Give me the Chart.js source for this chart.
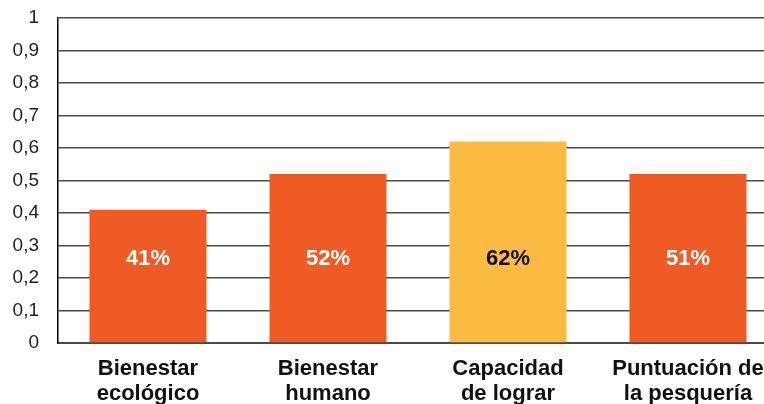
<!DOCTYPE html>
<html>
<head>
<meta charset="utf-8">
<script src="https://cdn.jsdelivr.net/npm/chart.js@4/dist/chart.umd.min.js"></script>
<style>
  html, body { margin:0; padding:0; background:#fff; overflow:hidden; }
  #caja { width:778px; height:404px; }
</style>
</head>
<body>
<div id="caja"><canvas id="myChart"></canvas></div>
<script>
// datos
const categorias = [["Bienestar","ecológico"],["Bienestar","humano"],["Capacidad","de lograr"],["Puntuación de","la pesquería"]];
const valores = [0.41, 0.52, 0.62, 0.52];
const etiquetas = ["41%", "52%", "62%", "51%"];
const ticksY = [0, 0.1, 0.2, 0.3, 0.4, 0.5, 0.6, 0.7, 0.8, 0.9, 1];

const naranja = '#F05A24';
const amarillo = '#FBBB42';

// texto dentro de cada barra, a la misma altura en todas
const textoBarras = {
    id: 'textoBarras',
    afterDatasetsDraw(chart) {
        const ctx = chart.ctx;
        const meta = chart.getDatasetMeta(0);
        const y = chart.scales.y.getPixelForValue(0.26);
        ctx.save();
        ctx.font = 'bold 22px "Liberation Sans", Arial, sans-serif';
        ctx.textAlign = 'center';
        ctx.textBaseline = 'middle';
        meta.data.forEach((barra, i) => {
            ctx.fillStyle = i == 2 ? '#111' : '#fff';
            ctx.fillText(etiquetas[i], barra.x, y);
        });
        ctx.restore();
    }
};

function grafico() {
    const ctx = document.getElementById('myChart');

    new Chart(ctx, {
        type: 'bar',
        data: {
            labels: categorias,
            datasets: [{
                data: valores,
                backgroundColor: [naranja, naranja, amarillo, naranja],
                barPercentage: 0.65,
                categoryPercentage: 1
            }]
        },
        options: {
            responsive: true,
            maintainAspectRatio: false,
            animation: false,
            layout: { padding: { top: 18, left: 0, right: 0, bottom: 0 } },
            plugins: { legend: { display: false }, tooltip: { enabled: false } },
            scales: {
                x: {
                    grid: { display: false },
                    border: { display: true, color: '#4a4a4a', width: 2 },
                    ticks: {
                        color: '#111',
                        padding: 5,
                        maxRotation: 0,
                        autoSkip: false,
                        font: { family: '"Liberation Sans", Arial, sans-serif', size: 22, weight: 'bold', lineHeight: 1.15 }
                    },
                    afterFit(escala) { escala.height = 61; }
                },
                y: {
                    min: 0,
                    max: 1,
                    afterBuildTicks(escala) { escala.ticks = ticksY.map(v => ({ value: v })); },
                    grid: { color: '#4a4a4a', lineWidth: 1.5, drawTicks: false },
                    border: { display: true, color: '#000', width: 1.5 },
                    ticks: {
                        color: '#222',
                        padding: 19,
                        font: { family: '"Liberation Sans", Arial, sans-serif', size: 19 },
                        callback: v => String(v).replace('.', ',')
                    },
                    afterFit(escala) {
                        escala.width = 58;
                        escala.paddingTop = 0;
                        escala.paddingBottom = 0;
                    }
                }
            }
        },
        plugins: [textoBarras]
    });
}

grafico();
</script>
</body>
</html>
